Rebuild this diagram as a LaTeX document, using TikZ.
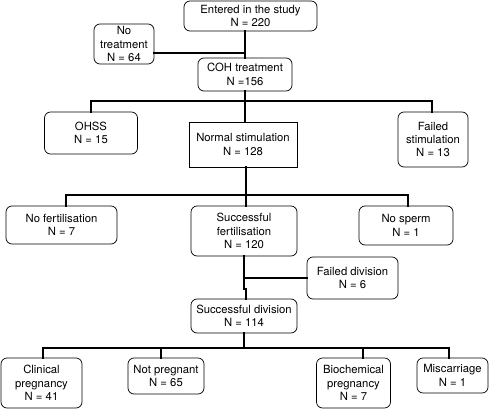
\documentclass[tikz,border=0pt]{standalone}
\usepackage{fontspec}
\setmainfont{TeX Gyre Heros}
\begin{document}
\begin{tikzpicture}[
  x = 1pt, y = -1pt,
  box/.style = {
    shape = rectangle,
    draw = black,
    line width = 0.7pt,
    rounded corners = 6pt,
    align = center,
    inner sep = 0pt,
    outer sep = 0pt,
    font = \fontsize{11.3}{13.3}\selectfont,
  },
  plainbox/.style = {
    box,
    sharp corners,
  }
]
  \useasboundingbox (0, 0) rectangle (489, 409);

  \node[box, minimum width = 133pt, minimum height = 30pt] (entered) at (250.5, 16) {Entered in the study\\N = 220};
  \node[box, minimum width = 60pt, minimum height = 40pt] (notreat) at (124, 44) {No\\treatment\\N = 64};
  \node[box, minimum width = 94pt, minimum height = 33pt] (coh) at (245, 74.5) {COH treatment\\N =156};

  \node[box, minimum width = 93pt, minimum height = 42pt] (ohss) at (91, 133) {OHSS\\N = 15};
  \node[plainbox, minimum width = 108pt, minimum height = 45pt] (normal) at (243, 144.5) {Normal stimulation\\N = 128};
  \node[box, minimum width = 70pt, minimum height = 55pt] (failstim) at (433, 139.5) {Failed\\stimulation\\N = 13};

  \node[box, minimum width = 111pt, minimum height = 38pt] (nofert) at (61.5, 225) {No fertilisation\\N = 7};
  \node[box, minimum width = 106pt, minimum height = 50pt] (succfert) at (244, 231) {Successful\\fertilisation\\N = 120};
  \node[box, minimum width = 94pt, minimum height = 39pt] (nosperm) at (406, 225.5) {No sperm\\N = 1};
  \node[box, minimum width = 91pt, minimum height = 42pt] (faildiv) at (352.5, 278) {Failed division\\N = 6};

  \node[box, minimum width = 106pt, minimum height = 34pt] (succdiv) at (244, 316) {Successful division\\N = 114};

  \node[box, minimum width = 81pt, minimum height = 50pt] (clinical) at (41.5, 383) {Clinical\\pregnancy\\N = 41};
  \node[box, minimum width = 76pt, minimum height = 36pt] (notpreg) at (166, 376) {Not pregnant\\N = 65};
  \node[box, minimum width = 74pt, minimum height = 50pt] (biochem) at (353.5, 383) {Biochemical\\pregnancy\\N = 7};
  \node[box, minimum width = 71pt, minimum height = 35pt] (miscar) at (452.5, 375.5) {Miscarriage\\N = 1};

  \begin{scope}[
    every path/.style = {line width = 2pt, line cap = rect}
  ]
    \draw (coh.north |- entered.south) -- (coh.north);
    \draw ([yshift = -9pt]notreat.east) -- ([yshift = -9pt]notreat.east -| coh.north);

    \draw (coh.south) -- ++(0, 10.5) coordinate (bus1);
    \draw (ohss.north) |- (bus1) -| ([xshift = -1pt]failstim.north);
    \draw (bus1) -- (bus1 |- normal.north);

    \draw ([xshift = 3pt]normal.south) -- ++(0, 28) coordinate (bus2);
    \draw ([xshift = 4pt]nofert.north) |- (bus2) -| ([xshift = 2pt]nosperm.north);
    \draw (bus2) -- (bus2 |- succfert.north);

    \draw (succfert.south) |- (faildiv.west);
    \draw (succfert.south) -- ++(0, 33) -- ++(2, 0) -- ([xshift = 2pt]succdiv.north);

    \draw (succdiv.south) -- ++(0, 15) coordinate (bus3);
    \draw ([xshift = -3.5pt]miscar.north) |- (bus3) -| ([xshift = 1.5pt]clinical.north);
    \draw ([xshift = -5pt]notpreg.north) -- ([xshift = -5pt]notpreg.north |- bus3);
    \draw ([xshift = 9.5pt]biochem.north) -- ([xshift = 9.5pt]biochem.north |- bus3);
  \end{scope}
\end{tikzpicture}
\end{document}
